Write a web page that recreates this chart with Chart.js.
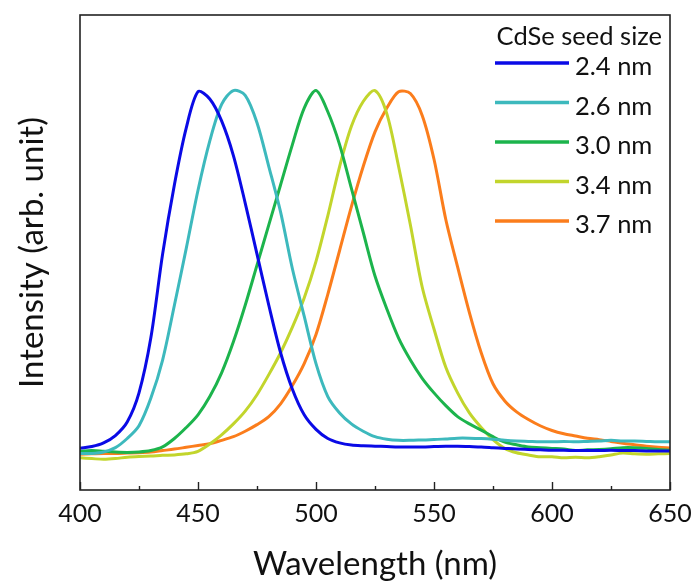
<!DOCTYPE html>
<html>
<head>
<meta charset="utf-8">
<script src="https://cdn.jsdelivr.net/npm/chart.js@4.4.1/dist/chart.umd.min.js"></script>
<style>
html,body{margin:0;padding:0;background:#ffffff;}
#wrap{width:694px;height:584px;}
</style>
</head>
<body>
<div id="wrap"><canvas id="c" width="694" height="584"></canvas></div>
<script>
// ---- data ----
const wavelengths = [400,405,410,415,420,425,430,435,440,445,450,455,460,465,470,475,480,485,490,495,
  500,505,510,515,520,525,530,535,540,545,550,555,560,565,570,575,580,585,590,595,
  600,605,610,615,620,625,630,635,640,645,650];

const seedSizes = ['2.4 nm','2.6 nm','3.0 nm','3.4 nm','3.7 nm'];
const legendTitle = 'CdSe seed size';

const pl24 = [0.018,0.023,0.033,0.053,0.09,0.17,0.32,0.55,0.74,0.895,0.995,0.975,0.915,0.82,0.69,0.55,0.41,0.28,0.18,0.11,
  0.07,0.045,0.033,0.027,0.025,0.024,0.023,0.022,0.022,0.022,0.023,0.024,0.024,0.023,0.022,0.02,0.018,0.016,0.015,0.014,
  0.013,0.013,0.012,0.012,0.012,0.013,0.012,0.012,0.011,0.011,0.011];
const pl26 = [0.004,0.004,0.008,0.02,0.045,0.08,0.155,0.26,0.41,0.565,0.725,0.86,0.96,0.998,0.985,0.91,0.79,0.665,0.51,0.38,
  0.25,0.16,0.115,0.085,0.065,0.05,0.043,0.04,0.04,0.041,0.042,0.044,0.046,0.046,0.045,0.043,0.04,0.038,0.037,0.036,
  0.036,0.037,0.036,0.037,0.038,0.04,0.038,0.038,0.037,0.036,0.036];
const pl30 = [0.010,0.012,0.010,0.008,0.007,0.008,0.012,0.022,0.045,0.075,0.11,0.16,0.225,0.31,0.41,0.52,0.63,0.74,0.85,0.95,
  0.998,0.94,0.85,0.73,0.61,0.49,0.40,0.32,0.26,0.21,0.17,0.135,0.105,0.085,0.068,0.05,0.035,0.028,0.022,0.02,
  0.018,0.016,0.012,0.014,0.015,0.017,0.02,0.02,0.018,0.015,0.013];
const pl34 = [-0.008,-0.01,-0.012,-0.01,-0.006,-0.004,-0.003,-0.001,0.0,0.003,0.01,0.03,0.055,0.085,0.12,0.165,0.22,0.28,0.35,0.43,
  0.53,0.655,0.79,0.9,0.968,0.998,0.935,0.79,0.63,0.46,0.345,0.24,0.17,0.115,0.075,0.042,0.018,0.006,0.0,-0.005,
  -0.005,-0.008,-0.006,-0.008,-0.005,0.0,0.005,0.003,0.002,0.003,0.004];
const pl37 = [0.002,0.003,0.004,0.004,0.005,0.006,0.008,0.012,0.016,0.021,0.026,0.031,0.04,0.05,0.065,0.083,0.105,0.14,0.19,0.25,
  0.33,0.44,0.56,0.68,0.79,0.885,0.95,0.995,0.99,0.93,0.81,0.645,0.515,0.39,0.28,0.195,0.148,0.118,0.097,0.08,
  0.067,0.058,0.052,0.046,0.042,0.037,0.032,0.028,0.024,0.021,0.019];

const seriesValues = [pl24, pl26, pl30, pl34, pl37];
const seriesColors = ['#0a0ae6','#3db9bd','#1cb44c','#c2d52c','#fb7d1c'];

const xTicks = [400,450,500,550,600,650];
const xMinorTicks = [425,475,525,575,625];
const xTitle = 'Wavelength (nm)';
const yTitle = 'Intensity (arb. unit)';

const FONT = 'Lato, "Open Sans", sans-serif';

// ---- plugins ----
const framePlugin = {
  id: 'frame',
  afterDatasetsDraw(chart) {
    const {ctx, chartArea: a, scales: {x}} = chart;
    ctx.save();
    ctx.strokeStyle = '#222';
    ctx.lineWidth = 1.6;
    ctx.strokeRect(a.left, a.top, a.right - a.left, a.bottom - a.top);
    ctx.lineWidth = 1.4;
    ctx.beginPath();
    xTicks.forEach(v => {
      const px = Math.round(x.getPixelForValue(v)) + 0.5;
      ctx.moveTo(px, a.bottom); ctx.lineTo(px, a.bottom - 8);
    });
    xMinorTicks.forEach(v => {
      const px = Math.round(x.getPixelForValue(v)) + 0.5;
      ctx.moveTo(px, a.bottom); ctx.lineTo(px, a.bottom - 4);
    });
    ctx.stroke();
    ctx.restore();
  }
};

const legendPlugin = {
  id: 'seedLegend',
  afterDraw(chart) {
    const {ctx, chartArea: a} = chart;
    ctx.save();
    ctx.fillStyle = '#111';
    ctx.font = '25.5px ' + FONT;
    ctx.textAlign = 'right';
    ctx.textBaseline = 'alphabetic';
    ctx.fillText(legendTitle, a.right - 8, a.top + 30);
    ctx.textAlign = 'left';
    ctx.font = '25.5px ' + FONT;
    chart.data.datasets.forEach((ds, i) => {
      const y = a.top + 48 + i * 39.5;
      ctx.strokeStyle = ds.borderColor;
      ctx.lineWidth = 3.5;
      ctx.beginPath();
      ctx.moveTo(a.right - 175, y);
      ctx.lineTo(a.right - 101, y);
      ctx.stroke();
      ctx.fillStyle = '#111';
      ctx.fillText(ds.label, a.right - 95, y + 12);
    });
    ctx.restore();
  }
};

new Chart(document.getElementById('c'), {
  type: 'line',
  data: {
    datasets: seedSizes.map((label, i) => ({
      label,
      data: wavelengths.map((w, j) => ({x: w, y: seriesValues[i][j]})),
      borderColor: seriesColors[i],
      borderWidth: 3,
      pointRadius: 0,
      tension: 0.3,
      fill: false
    }))
  },
  options: {
    responsive: false,
    animation: false,
    devicePixelRatio: 1,
    layout: {padding: {top: 15, right: 24, left: 0, bottom: 0}},
    plugins: {legend: {display: false}, tooltip: {enabled: false}},
    scales: {
      x: {
        type: 'linear', min: 400, max: 650,
        afterBuildTicks: s => { s.ticks = xTicks.map(v => ({value: v})); },
        afterFit: s => { s.height = 94; s.paddingLeft = 0; s.paddingRight = 0; },
        grid: {display: false, drawTicks: false},
        border: {display: false},
        ticks: {color: '#111', font: {family: FONT, size: 25}, padding: 9, maxRotation: 0},
        title: {display: true, text: xTitle, color: '#111', font: {family: FONT, size: 33}, padding: {top: 0, bottom: 0}}
      },
      y: {
        min: -0.096, max: 1.205,
        afterFit: s => { s.width = 80; s.paddingTop = 0; s.paddingBottom = 0; },
        grid: {display: false, drawTicks: false},
        border: {display: false},
        ticks: {display: false},
        title: {display: true, text: yTitle, color: '#111', font: {family: FONT, size: 33}, padding: {top: 13, bottom: 0}}
      }
    }
  },
  plugins: [framePlugin, legendPlugin]
});
</script>
</body>
</html>
